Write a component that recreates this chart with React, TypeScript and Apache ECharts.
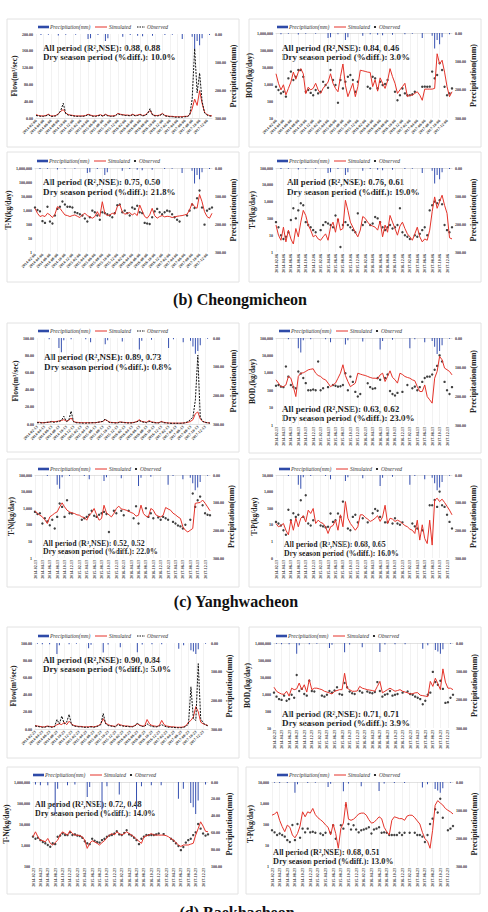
import React, { useEffect, useRef } from "react";
import * as echarts from "echarts";

const FONT = "'Liberation Serif','Times New Roman',serif";

// ---------- tick labels (dates) ----------
const ticksCM = ["2014-02-06","2014-04-06","2014-06-06","2014-08-06","2014-10-06","2014-12-06","2015-02-06","2015-04-06","2015-06-06","2015-08-06","2015-10-06","2015-12-06","2016-02-06","2016-04-06","2016-06-06","2016-08-06","2016-10-06","2016-12-06","2017-02-06","2017-04-06","2017-06-06","2017-08-06","2017-10-06","2017-12-06"];
const ticksYH = ["2014-02-13","2014-04-13","2014-06-13","2014-08-13","2014-10-13","2014-12-13","2015-02-13","2015-04-13","2015-06-13","2015-08-13","2015-10-13","2015-12-13","2016-02-13","2016-04-13","2016-06-13","2016-08-13","2016-10-13","2016-12-13","2017-02-13","2017-04-13","2017-06-13","2017-08-13","2017-10-13","2017-12-13"];
const ticksBH = ["2014-02-23","2014-04-23","2014-06-23","2014-08-23","2014-10-23","2014-12-23","2015-02-23","2015-04-23","2015-06-23","2015-08-23","2015-10-23","2015-12-23","2016-02-23","2016-04-23","2016-06-23","2016-08-23","2016-10-23","2016-12-23","2017-02-23","2017-04-23","2017-06-23","2017-08-23","2017-10-23","2017-12-23"];

// ---------- precipitation (mm) ----------
const cmRain = [0,0,4,0,0,3,0,0,0,5, 0,0,3,0,0,0,3,0,0,0, 0,18,15,0,0,4,0,0,25,15, 0,0,0,0,0,10,0,0,4,0, 0,6,0,8,0,0,0,6,0,0, 0,0,4,0,0,3,0,0,0,18, 0,0,0,10,55,25,40,15,0,0, 4,0];
const yhRain = [0,0,0,0,0,4,0,0,0,35, 50,8,0,0,4,0,0,0,0,0, 4,0,15,0,0,0,0,0,22,8, 0,0,0,0,0,12,0,0,0,0, 0,0,40,10,0,0,0,6,0,0, 0,0,0,0,35,0,4,0,0,0, 15,0,0,10,30,55,45,25,0,0, 3,0];
const bhRain = [0,3,0,4,0,0,4,0,0,38, 8,0,0,0,4,0,0,3,0,0, 0,0,18,6,0,0,0,0,33,0, 5,0,0,0,0,15,0,0,0,0, 0,0,32,0,5,0,0,0,4,0, 0,0,4,0,0,0,0,0,0,20, 0,8,0,0,25,30,38,22,0,0, 3,0];

// ---------- (b) Cheongmicheon ----------
const cmFlowSim = [8,6,5,5,6,9,5,5,6,10, 16,20,12,8,7,6,5,5,5,5, 6,9,7,5,5,6,8,5,9,6, 5,5,6,11,9,8,7,7,6,9, 6,7,9,6,7,12,18,8,6,6, 7,11,6,5,4,4,3,3,3,3, 4,4,8,22,45,30,65,35,14,8, 6,5];
const cmFlowObs = [6,5,4,4,5,8,4,4,5,9, 18,35,10,7,6,5,4,4,4,4, 5,8,6,4,4,5,7,4,8,5, 4,4,5,10,8,7,6,6,5,8, 5,6,8,5,6,10,22,7,5,5, 6,10,5,4,3,3,2,2,2,2, 3,3,7,45,165,60,107,40,12,7, 5,4];
const cmBodSim = [4000,1100,450,900,230,550,1300,5000,1900,5000, 8000,4000,270,650,450,550,1100,450,280,550, 850,1300,4000,1100,550,350,2700,15000,850,180, 450,1100,180,700,6500,6000,5500,5000,4800,700, 1800,380,2300,1100,550,1500,8000,2700,1100,280, 450,700,1100,180,220,220,280,350,220,110, 500,500,500,500,550,60000,15000,25000,5000,700, 180,350];
const cmBodObs = [690,440,280,350,180,2150,5350,1700,2700,6700, 6700,2700,350,440,300,220,440,280,350,1350, 870,600,6700,1700,870,78,1700,550,1350,2700, 3400,1700,350,1350,null,null,null,690,550,2700, 2150,550,1350,870,1000,1700,null,null,350,110, 220,550,280,220,220,250,350,null,null,690, 700,690,700,5350,2150,3400,16600,6700,690,220, 280,550];
const cmTnSim = [1300,580,340,400,340,580,445,290,500,1740, 1320,760,445,400,340,400,445,355,290,445, 580,400,323,260,340,760,340,3900,580,400, 445,580,500,1740,2500,760,500,580,650,445, 580,400,2270,850,340,260,445,1320,400,260, 340,400,323,355,340,290,323,355,380,400, 445,500,1000,3000,1740,1320,12900,3900,760,340, 260,580];
const cmTnObs = [1500,1000,800,160,120,1700,150,110,400,1200, 1700,4000,2500,1700,1700,1500,700,600,500,400, 250,150,300,900,700,400,200,700,600,500, 400,300,600,2200,2500,700,900,600,400,1500, 1200,2000,700,600,120,110,100,300,800,1200, 700,500,700,900,800,500,300,200,150,null, null,400,900,2500,1400,7000,25000,1500,90,900, 1200,1500];
const cmTpSim = [40,10,5,30,4,20,6,3,25,8, 60,300,150,40,20,8,10,6,5,8, 12,5,30,60,15,100,20,25,1200,300, 60,30,15,8,20,130,100,60,40,35, 30,20,70,8,40,15,150,60,25,10, 35,60,25,12,8,5,12,30,8,4, 6,5,20,250,1900,400,1000,2400,600,200, 7,6];
const cmTpObs = [60,30,10,6,8,15,80,400,100,300, 800,600,60,40,30,20,15,null,20,40, 60,50,40,30,150,80,2,40,60,40, 30,20,15,200,null,40,60,null,40,50, 120,100,60,30,20,30,40,25,30,40, 400,15,10,8,6,null,10,8,12,20, 30,10,300,600,1000,800,1200,700,40,20, 15,30];

// ---------- (c) Yanghwacheon ----------
const yhFlowSim = [2,2,1.5,1.5,2,2,3,2.5,3,3.5, 4,5,3.5,4,7,3,2,1.8,1.5,1.5, 1.5,1.5,1.5,1.5,1.5,2,2.5,3,5,3.5, 2,1.8,1.5,1.5,2.5,2,1.8,1.5,1.5,1.5, 2,3,5,3,2.5,2,4,2.5,2,1.5, 1.5,3,2,1.5,1.2,1,1,1,1,1, 1.2,1.5,2,3,5,12,14,6,3,2, 1.5,1.2];
const yhFlowObs = [1.5,1.5,1.2,1.5,1.8,2.5,2.5,2,2.5,3, 4,9,3,4,15,2.5,1.5,1.2,1.2,1, 1,1.2,1.2,1.5,1.5,2,2.5,3,6,3, 1.5,1.5,1.2,1.2,2,2,1.5,1.2,1.2,1.2, 1.8,2.5,4,2.5,2,1.5,3,2,1.5,1.2, 1.2,2.5,1.5,1.2,1,0.8,0.8,0.8,0.8,0.8, 1,1.5,3,5,8,28,80,8,3,2, 1.2,1];
const yhBodSim = [395,255,160,160,200,615,490,160,43,615, 950,1000,1200,1480,1600,1700,950,700,615,450, 395,255,160,200,255,490,950,2900,700,315, 160,200,255,950,840,760,700,615,540,490, 490,450,760,950,315,615,1300,540,400,255, 950,800,615,540,490,395,350,160,84,84, 200,43,28,18,490,1200,8700,5600,1860,1500, 1200,760];
const yhBodObs = [180,200,160,150,2300,600,200,150,130,1200, 900,500,255,100,100,110,100,4500,100,130, null,150,null,200,180,160,170,200,950,100, 600,300,80,43,60,null,null,250,150,120, 130,500,400,null,500,800,90,60,50,70, null,80,null,200,null,130,160,100,150,300, 500,600,600,800,1500,2500,10000,4500,300,100, 60,150];
const yhTnSim = [700,480,380,300,200,120,300,380,500,600, 1200,2100,1200,760,600,520,480,400,380,300, 275,190,380,530,960,400,190,240,1500,520, 400,300,480,960,1330,900,840,760,650,550, 480,330,380,1530,480,330,300,960,760,400, 330,300,380,1100,900,760,500,400,300,240, 75,47,37,47,60,1950,2100,2200,3100,2000, 1200,700];
const yhTnObs = [600,450,500,120,250,160,95,200,60,300, 1900,1200,300,3000,500,480,null,null,null,200, 250,300,400,700,350,300,400,500,600,450, 37,null,700,500,null,700,380,null,700,null, 250,1300,120,null,null,1000,300,500,250,null, 280,200,300,250,200,null,150,120,90,80, 60,100,null,200,7700,1200,3000,5000,1500,500, 400,380];
const yhTpSim = [12,7.6,9,12,4.7,2.5,19,4.7,25,7.6, 25,35,15,76,48,96,12,19,14,12, 7.6,3,7.6,9,19,4.7,40,7.6,250,25, 12,7.6,4.7,7.6,40,40,28,22,16,19, 25,35,16,30,150,12,25,22,16,19, 16,12,9,7.6,5.5,4.7,3,19,1.2,10, 1.5,0.74,19,0.6,300,400,250,350,220,130, 76,40];
const yhTpObs = [15,12,9,4.7,2.5,80,19,50,30,40, 300,30,600,12,9,19,null,null,9,8, 7,7.6,48,15,19,48,30,250,null,6, 4.7,30,40,14,null,25,null,14,null,50, 90,70,30,null,14,14,null,12,25,12, 10,14,null,null,null,12,8,6,null,4.7, null,null,150,150,310,120,1000,150,120,40, 15,6];

// ---------- (d) Baekhacheon ----------
const bhFlowSim = [4,3.5,3,2.5,2.5,3.5,3,2.5,3,5, 6,5,8,5,9,6,4,3.5,3,3, 2.5,2.5,2.5,3,2.5,3,4,6,12,7, 5,4,3.5,3,6,5,4,3.5,3.5,3, 3,4,6,4.5,3.5,3.5,11,6,4,3.5, 3,4,10,5,3.5,3,2.5,2.5,2,2, 2,2.5,4,8,10,14,26,20,8,6, 5,4];
const bhFlowObs = [3.5,3,2.5,2,2,3,2.5,2,2.5,11, 6,15,6,8,17,5,3.5,3,2.5,2.5, 2,2,2,2.5,2,2.5,3.5,5,18,6, 4,3.5,3,2.5,5,4,3.5,3,3,2.5, 2.5,3.5,7,4,3,3,6,4,3,2.5, 2.5,3.5,5,3.5,2.5,2,2,1.8,1.5,1.5, 1.5,2,3,6,49,12,10,76,12,7, 5,3.5];
const bhBodSim = [2500,1450,1170,1000,950,1450,750,2200,1800,2000, 4400,1800,3500,1300,7000,1800,2200,2200,2000,1800, 1450,1300,1150,1000,1450,1600,1800,1800,16600,2200, 1800,1450,1450,1500,2800,2200,2000,1800,1700,1600, 1450,2800,5500,1170,1450,1800,2200,1800,1450,1600, 1800,1450,1300,1170,1000,1050,1170,1200,850,800, 750,700,5500,2800,8500,4000,1800,30000,5000,2200, 2200,1800];
const bhBodObs = [1200,700,500,450,800,400,500,900,600,13000, 1500,2000,1000,800,6000,1500,1400,null,null,800, 700,900,1500,1200,1600,2500,1000,900,4400,2500, 1400,1100,1000,null,1500,1200,null,1400,1200,1100, 1300,5000,1500,700,900,1000,1500,800,900,1000, null,1200,null,1400,1000,900,700,600,500,250, 400,900,1200,20000,5000,3500,6000,2000,300,330, 600,900];
const bhTnSim = [2450,4250,2450,1700,1600,1420,2050,1200,1000,1300, 1700,3000,4250,3500,3000,4800,3500,2960,2960,2800, 2450,1700,690,1200,1600,1400,1200,1000,1300,1600, 2200,2960,3500,3000,4250,3500,3000,3500,4250,3500, 2960,2450,1900,1500,1200,2450,2700,3000,3500,3000, 2960,2960,2960,2960,2800,2450,2000,1700,1300,1000, 850,1000,1000,1000,1100,1200,2960,6000,12700,8000, 4500,4250];
const bhTnObs = [2500,2000,2200,1700,1400,1200,1000,830,1200,1100, 2450,2800,3500,3000,2960,4000,3000,3200,2800,2700, 2200,1500,1200,1100,2000,1600,1400,1300,1700,2000, 2450,2800,3000,3500,4500,3200,3000,3700,5000,3200, 2800,2200,1700,1100,2000,2500,3000,2960,3000,3000, 3200,3500,null,3300,null,null,2000,1600,1200,900, 570,800,1300,1700,2000,2960,4000,10000,6000,3500, 2800,3200];
const bhTpSim = [263,300,380,150,75,43,88,70,30,22, 35,80,380,220,380,330,550,280,200,160, 127,90,70,30,100,35,7,61,110,1100, 170,150,170,220,300,330,330,263,160,110, 120,160,220,180,70,43,30,150,220,200, 180,180,150,240,263,260,200,140,100,40, 20,15,7,50,780,1300,1000,800,550,450, 380,300];
const bhTpObs = [50,40,30,35,30,25,17,14,90,17, 100,22,60,40,60,40,43,38,null,35, 30,38,null,38,88,20,null,88,60,780, 100,55,88,55,40,50,55,60,70,35, 55,60,70,38,40,38,30,30,30,30, 38,30,38,null,38,null,38,30,30,25, 14,30,100,180,500,350,1600,200,null,50, 60,80];

// ---------- statistics captions ----------
const statsAll = ["0.88, 0.88","0.84, 0.46","0.75, 0.50","0.76, 0.61","0.89, 0.73","0.63, 0.62","0.52, 0.52","0.68, 0.65","0.90, 0.84","0.71, 0.71","0.72, 0.48","0.68, 0.51"];
const statsDry = ["10.0%","3.0%","21.8%","19.0%","0.8%","23.0%","22.0%","16.0%","5.0%","3.9%","14.0%","13.0%"];
const sectionTitles = ["(b) Cheongmicheon","(c) Yanghwacheon","(d) Baekhacheon"];

type Panel = {
  kind: "flow" | "wq";
  yName: string;
  log: boolean;
  yMin: number; yMax: number; ySplit: number;
  rainMax: number; rainInt: number;
  sim: number[]; obs: (number | null)[]; rain: number[]; ticks: string[];
  x0: number; x1: number; y0: number; y1: number;
  rot: number;
  leg: [number, number];
  st: [number, number, number];
  frame: [number, number, number, number];
  nameL: number; nameR: number;
  sf: number;
};

const FLOW = "Flow(m³/sec)";
const BOD = "BOD₅(kg/day)";
const TN = "T-N(kg/day)";
const TP = "T-P(kg/day)";

const panels: Panel[] = [
  { kind: "flow", yName: FLOW, log: false, yMin: 0, yMax: 200, ySplit: 40, rainMax: 300, rainInt: 100, sim: cmFlowSim, obs: cmFlowObs, rain: cmRain, ticks: ticksCM, x0: 36, x1: 212, y0: 34, y1: 118, rot: 45, leg: [38, 27], st: [43, 48, 57], frame: [7, 19, 232, 128], nameL: 15, nameR: 230, sf: 9 },
  { kind: "wq", yName: BOD, log: true, yMin: 10, yMax: 1000000, ySplit: 5, rainMax: 300, rainInt: 100, sim: cmBodSim, obs: cmBodObs, rain: cmRain, ticks: ticksCM, x0: 276, x1: 452, y0: 33, y1: 118, rot: 45, leg: [277, 27], st: [282, 48, 57], frame: [249, 19, 232, 128], nameL: 259, nameR: 474, sf: 9 },
  { kind: "wq", yName: TN, log: true, yMin: 1, yMax: 1000000, ySplit: 6, rainMax: 300, rainInt: 100, sim: cmTnSim, obs: cmTnObs, rain: cmRain, ticks: ticksCM, x0: 35, x1: 212, y0: 168, y1: 252, rot: 45, leg: [37, 161], st: [43, 182, 192], frame: [7, 152, 232, 130], nameL: 15, nameR: 230, sf: 9 },
  { kind: "wq", yName: TP, log: true, yMin: 1, yMax: 100000, ySplit: 5, rainMax: 300, rainInt: 100, sim: cmTpSim, obs: cmTpObs, rain: cmRain, ticks: ticksCM, x0: 276, x1: 452, y0: 168, y1: 252, rot: 90, leg: [277, 161], st: [287, 182, 192], frame: [249, 152, 232, 130], nameL: 259, nameR: 474, sf: 9 },
  { kind: "flow", yName: FLOW, log: false, yMin: 0, yMax: 100, ySplit: 20, rainMax: 300, rainInt: 100, sim: yhFlowSim, obs: yhFlowObs, rain: yhRain, ticks: ticksYH, x0: 37, x1: 210, y0: 338, y1: 424, rot: 45, leg: [38, 331], st: [44, 357, 367], frame: [7, 323, 232, 129], nameL: 15, nameR: 234, sf: 9 },
  { kind: "wq", yName: BOD, log: true, yMin: 1, yMax: 100000, ySplit: 5, rainMax: 300, rainInt: 100, sim: yhBodSim, obs: yhBodObs, rain: yhRain, ticks: ticksYH, x0: 276, x1: 452, y0: 338, y1: 425, rot: 90, leg: [279, 331], st: [282, 409, 418], frame: [249, 323, 232, 130], nameL: 257, nameR: 474, sf: 9 },
  { kind: "wq", yName: TN, log: true, yMin: 1, yMax: 100000, ySplit: 5, rainMax: 300, rainInt: 100, sim: yhTnSim, obs: yhTnObs, rain: yhRain, ticks: ticksYH, x0: 35, x1: 210, y0: 475, y1: 558, rot: 90, leg: [38, 469], st: [43, 543, 551.5], frame: [7, 459, 232, 128], nameL: 13, nameR: 231, sf: 7.8 },
  { kind: "wq", yName: TP, log: true, yMin: 0.1, yMax: 10000, ySplit: 5, rainMax: 300, rainInt: 100, sim: yhTpSim, obs: yhTpObs, rain: yhRain, ticks: ticksYH, x0: 276, x1: 452, y0: 475, y1: 558, rot: 90, leg: [279, 469], st: [284, 544.5, 553], frame: [249, 459, 232, 128], nameL: 257, nameR: 474, sf: 7.8 },
  { kind: "flow", yName: FLOW, log: false, yMin: 0, yMax: 100, ySplit: 20, rainMax: 300, rainInt: 100, sim: bhFlowSim, obs: bhFlowObs, rain: bhRain, ticks: ticksBH, x0: 35, x1: 208, y0: 643, y1: 729, rot: 45, leg: [38, 636], st: [43, 660, 669], frame: [7, 627, 232, 131], nameL: 15, nameR: 230, sf: 9 },
  { kind: "wq", yName: BOD, log: true, yMin: 10, yMax: 1000000, ySplit: 5, rainMax: 300, rainInt: 100, sim: bhBodSim, obs: bhBodObs, rain: bhRain, ticks: ticksBH, x0: 274, x1: 453, y0: 643, y1: 728, rot: 90, leg: [276, 636], st: [282, 714, 723], frame: [249, 627, 232, 131], nameL: 257, nameR: 474, sf: 9 },
  { kind: "wq", yName: TN, log: true, yMin: 100, yMax: 1000000, ySplit: 4, rainMax: 100, rainInt: 20, sim: bhTnSim, obs: bhTnObs, rain: bhRain, ticks: ticksBH, x0: 33, x1: 208, y0: 782, y1: 866, rot: 90, leg: [33, 775], st: [35, 804.5, 813.5], frame: [7, 767, 231, 127], nameL: 13, nameR: 228, sf: 8.2 },
  { kind: "wq", yName: TP, log: true, yMin: 1, yMax: 10000, ySplit: 4, rainMax: 300, rainInt: 100, sim: bhTpSim, obs: bhTpObs, rain: bhRain, ticks: ticksBH, x0: 272, x1: 453, y0: 782, y1: 866, rot: 90, leg: [277, 775], st: [273, 852, 861], frame: [246, 767, 234, 127], nameL: 252, nameR: 473, sf: 8.2 },
];

const captionPos: [number, number][] = [[240, 299], [236, 601], [237, 912]];

const fmtLog = (v: number) => (v < 1 ? "0" : Math.round(v).toLocaleString("en-US"));

function buildOption() {
  const grid: any[] = [];
  const xAxis: any[] = [];
  const yAxis: any[] = [];
  const series: any[] = [];
  const graphic: any[] = [];
  const lab = { fontFamily: FONT, fontWeight: "bold", color: "#333" };

  panels.forEach((p, i) => {
    grid.push({ left: p.x0, top: p.y0, width: p.x1 - p.x0, height: p.y1 - p.y0 });
    const cats = p.ticks.flatMap((t) => [t, t + "|1", t + "|2"]);
    xAxis.push({
      type: "category", gridIndex: i, data: cats, boundaryGap: false,
      axisTick: { show: false },
      axisLine: { show: true, lineStyle: { color: "#cfcfcf", width: 0.6 } },
      axisLabel: { ...lab, interval: 2, rotate: p.rot, fontSize: 4, margin: 2, formatter: (v: string) => String(v).split("|")[0] },
      splitLine: { show: true, interval: 2, lineStyle: { color: "#e4e4e4", width: 0.5 } },
    });
    const left: any = {
      gridIndex: i, position: "left", min: p.yMin, max: p.yMax,
      axisLine: { show: false }, axisTick: { show: false }, splitLine: { show: false },
      axisLabel: { ...lab, fontSize: 4, margin: 3 },
      name: p.yName, nameLocation: "middle", nameRotate: 90, nameGap: p.x0 - p.nameL - 4,
      nameTextStyle: { fontFamily: FONT, fontWeight: "bold", fontSize: 7.5, color: "#222" },
    };
    if (p.log) {
      left.type = "log"; left.logBase = 10; left.splitNumber = p.ySplit;
      left.axisLabel.formatter = fmtLog;
    } else {
      left.type = "value"; left.interval = p.ySplit;
      left.axisLabel.formatter = (v: number) => v.toFixed(2);
    }
    yAxis.push(left);
    yAxis.push({
      gridIndex: i, type: "value", position: "right", inverse: true, min: 0, max: p.rainMax, interval: p.rainInt,
      axisLine: { show: false }, axisTick: { show: false }, splitLine: { show: false },
      axisLabel: { ...lab, fontSize: 4, margin: 3, formatter: (v: number) => v.toFixed(2) },
      name: "Precipitation(mm)", nameLocation: "middle", nameRotate: 90, nameGap: p.nameR - p.x1 - 4.5,
      nameTextStyle: { fontFamily: FONT, fontWeight: "bold", fontSize: 8, color: "#222" },
    });
    series.push({
      type: "bar", name: "Precipitation(mm)", xAxisIndex: i, yAxisIndex: 2 * i + 1, data: p.rain,
      barWidth: 1, itemStyle: { color: "#3550b0" }, silent: true,
    });
    series.push({
      type: "line", name: "Simulated", xAxisIndex: i, yAxisIndex: 2 * i, data: p.sim,
      symbol: "none", lineStyle: { color: "#e5332a", width: 1 }, silent: true,
    });
    if (p.kind === "flow") {
      series.push({
        type: "line", name: "Observed", xAxisIndex: i, yAxisIndex: 2 * i, data: p.obs,
        symbol: "none", lineStyle: { color: "#111", width: 1, type: [2, 1.2] }, silent: true,
      });
    } else {
      series.push({
        type: "scatter", name: "Observed", xAxisIndex: i, yAxisIndex: 2 * i, data: p.obs,
        symbolSize: 2.4, itemStyle: { color: "#111" }, silent: true,
      });
    }

    // frame
    const [fx, fy, fw, fh] = p.frame;
    graphic.push({ type: "rect", shape: { x: fx, y: fy, width: fw, height: fh }, style: { fill: "none", stroke: "#e2e2e2", lineWidth: 1 }, z: -1, silent: true });

    // legend
    const [lx, ly] = p.leg;
    const lf = `italic 5.5px ${FONT}`;
    graphic.push({ type: "rect", shape: { x: lx, y: ly - 1.3, width: 11, height: 2.6 }, style: { fill: "#2e4aa8" }, silent: true });
    graphic.push({ type: "text", x: lx + 12, y: ly, style: { text: "Precipitation(mm)", font: lf, fill: "#333", align: "left", verticalAlign: "middle" }, silent: true });
    graphic.push({ type: "line", shape: { x1: lx + 57, y1: ly, x2: lx + 69, y2: ly }, style: { stroke: "#e5332a", lineWidth: 1 }, silent: true });
    graphic.push({ type: "text", x: lx + 71, y: ly, style: { text: "Simulated", font: lf, fill: "#333", align: "left", verticalAlign: "middle" }, silent: true });
    if (p.kind === "flow") {
      graphic.push({ type: "line", shape: { x1: lx + 99, y1: ly, x2: lx + 107, y2: ly }, style: { stroke: "#111", lineWidth: 1, lineDash: [1.5, 1] }, silent: true });
      graphic.push({ type: "text", x: lx + 109, y: ly, style: { text: "Observed", font: lf, fill: "#333", align: "left", verticalAlign: "middle" }, silent: true });
    } else {
      graphic.push({ type: "circle", shape: { cx: lx + 98, cy: ly, r: 1.1 }, style: { fill: "#111" }, silent: true });
      graphic.push({ type: "text", x: lx + 102, y: ly, style: { text: "Observed", font: lf, fill: "#333", align: "left", verticalAlign: "middle" }, silent: true });
    }

    // statistics
    const sfnt = `bold ${p.sf}px ${FONT}`;
    graphic.push({ type: "text", x: p.st[0], y: p.st[1], style: { text: `All period (R²,NSE): ${statsAll[i]}`, font: sfnt, fill: "#222", align: "left", verticalAlign: "middle" }, silent: true });
    graphic.push({ type: "text", x: p.st[0], y: p.st[2], style: { text: `Dry season period (%diff.): ${statsDry[i]}`, font: sfnt, fill: "#222", align: "left", verticalAlign: "middle" }, silent: true });
  });

  sectionTitles.forEach((t, k) => {
    graphic.push({ type: "text", x: captionPos[k][0], y: captionPos[k][1], style: { text: t, font: `bold 16px ${FONT}`, fill: "#111", align: "center", verticalAlign: "middle" }, silent: true });
  });

  return {
    animation: false,
    backgroundColor: "#ffffff",
    grid, xAxis, yAxis, series, graphic,
  };
}

export default function App() {
  const ref = useRef<HTMLDivElement>(null);
  useEffect(() => {
    document.body.style.margin = "0";
    const chart = echarts.init(ref.current!, undefined, { renderer: "svg", width: 488, height: 912 });
    chart.setOption(buildOption() as any);
    return () => chart.dispose();
  }, []);
  return <div ref={ref} style={{ width: 488, height: 912, background: "#fff" }} />;
}
